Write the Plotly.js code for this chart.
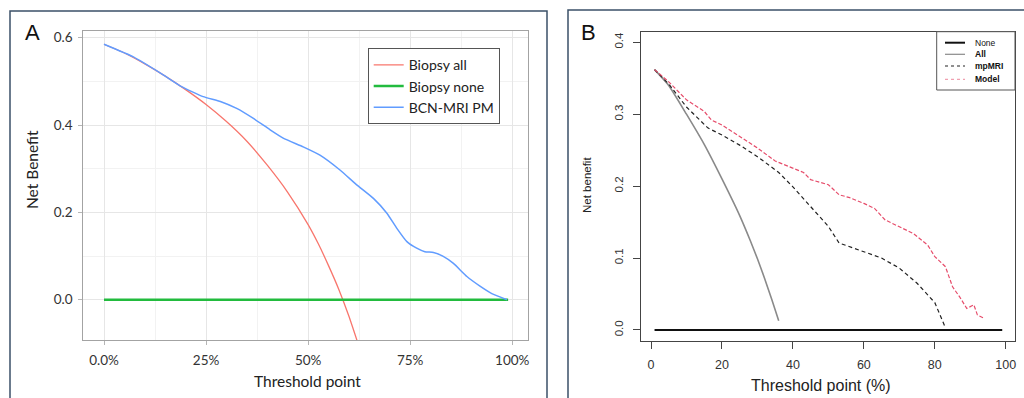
<!DOCTYPE html>
<html>
<head>
<meta charset="utf-8">
<script src="https://cdn.plot.ly/plotly-3.0.1.min.js"></script>
<style>html,body{margin:0;padding:0;background:#fff;}#chart{width:1024px;height:398px;}</style>
</head>
<body>
<div id="chart"></div>
<script>
// ---------- Panel A data (threshold as fraction, net benefit) ----------
const seriesNamesA = ['Biopsy all', 'Biopsy none', 'BCN-MRI PM'];
const thrA_all  = [0, 0.05, 0.10, 0.15, 0.20, 0.25, 0.30, 0.35, 0.40, 0.45, 0.50, 0.525, 0.55, 0.575, 0.60, 0.62];
const nbA_all   = [0.585, 0.565, 0.540, 0.512, 0.481, 0.447, 0.408, 0.363, 0.308, 0.246, 0.172, 0.128, 0.078, 0.024, -0.038, -0.094];
const thrA_none = [0, 0.99];
const nbA_none  = [0, 0];
const thrA_bcn  = [0, 0.072, 0.145, 0.19, 0.243, 0.285, 0.325, 0.366, 0.407, 0.439, 0.488, 0.529, 0.578, 0.619, 0.66, 0.693, 0.717, 0.742, 0.766, 0.786, 0.807, 0.831, 0.856, 0.889, 0.921, 0.95, 0.987];
const nbA_bcn   = [0.585, 0.556, 0.515, 0.488, 0.465, 0.454, 0.438, 0.415, 0.389, 0.370, 0.350, 0.331, 0.297, 0.263, 0.232, 0.198, 0.164, 0.133, 0.118, 0.110, 0.108, 0.099, 0.083, 0.053, 0.031, 0.014, 0.0];
const tickValsA_x = [0, 0.25, 0.5, 0.75, 1];
const tickTextA_x = ['0.0%', '25%', '50%', '75%', '100%'];
const tickValsA_y = [0, 0.2, 0.4, 0.6];

// ---------- Panel B data (threshold in %, net benefit) ----------
const seriesNamesB = ['None', 'All', 'mpMRI', 'Model'];
const thrB_none  = [1, 99];
const nbB_none   = [0, 0];
const thrB_all   = [1, 5, 10, 15, 20, 25, 28, 30, 32, 34, 36];
const nbB_all    = [0.362, 0.340, 0.300, 0.258, 0.210, 0.159, 0.124, 0.099, 0.072, 0.043, 0.013];
const thrB_mri   = [1, 5, 10, 16, 20, 25, 30, 36, 40, 45, 50, 53, 60, 65, 70, 75, 80, 83];
const nbB_mri    = [0.362, 0.342, 0.310, 0.281, 0.271, 0.257, 0.241, 0.219, 0.199, 0.171, 0.144, 0.121, 0.109, 0.100, 0.086, 0.065, 0.038, 0.003];
const thrB_model = [1, 5, 10, 15, 17, 20, 25, 30, 35, 40, 43, 45, 50, 53, 56, 60, 63, 66, 70, 74, 78, 80, 83, 85, 87, 89, 91, 92, 94];
const nbB_model  = [0.362, 0.345, 0.320, 0.304, 0.292, 0.285, 0.269, 0.253, 0.235, 0.225, 0.219, 0.209, 0.202, 0.188, 0.184, 0.176, 0.169, 0.153, 0.144, 0.134, 0.118, 0.102, 0.088, 0.060, 0.046, 0.030, 0.035, 0.021, 0.016];

const W = 1024, H = 398;
const px = v => v / W;
const py = v => 1 - v / H;

const traces = [
  {x: thrA_all, y: nbA_all, name: seriesNamesA[0], type: 'scatter', mode: 'lines', xaxis: 'x', yaxis: 'y',
   line: {color: '#F8766D', width: 1.3, shape: 'spline', smoothing: 0.5}, legend: 'legend'},
  {x: thrA_none, y: nbA_none, name: seriesNamesA[1], type: 'scatter', mode: 'lines', xaxis: 'x', yaxis: 'y',
   line: {color: '#22BB3E', width: 2.5}, legend: 'legend'},
  {x: thrA_bcn, y: nbA_bcn, name: seriesNamesA[2], type: 'scatter', mode: 'lines', xaxis: 'x', yaxis: 'y',
   line: {color: '#619CFF', width: 1.5, shape: 'spline', smoothing: 0.45}, legend: 'legend'},

  {x: thrB_none, y: nbB_none, name: seriesNamesB[0], type: 'scatter', mode: 'lines', xaxis: 'x2', yaxis: 'y2',
   line: {color: '#111111', width: 2}, showlegend: false},
  {x: thrB_all, y: nbB_all, name: seriesNamesB[1], type: 'scatter', mode: 'lines', xaxis: 'x2', yaxis: 'y2',
   line: {color: '#8a8a8a', width: 1.6, shape: 'spline', smoothing: 0.5}, showlegend: false},
  {x: thrB_mri, y: nbB_mri, name: seriesNamesB[2], type: 'scatter', mode: 'lines', xaxis: 'x2', yaxis: 'y2',
   line: {color: '#222222', width: 1.2, dash: '4px,3px'}, showlegend: false},
  {x: thrB_model, y: nbB_model, name: seriesNamesB[3], type: 'scatter', mode: 'lines', xaxis: 'x2', yaxis: 'y2',
   line: {color: '#e64d6b', width: 1.2, dash: '4px,2px'}, showlegend: false}
];

const fontA = 'Lato, "Open Sans", sans-serif';
const fontB = '"Liberation Sans", Arial, sans-serif';

// manual legend for panel B (compact R-style legend)
const legB_rows = [42.7, 54.3, 66, 79.3];
const legB_styles = [
  {color: '#111111', width: 2, dash: 'solid'},
  {color: '#8a8a8a', width: 1.2, dash: 'solid'},
  {color: '#222222', width: 1.2, dash: '3px,3px'},
  {color: '#f0a0b0', width: 1.2, dash: '3px,3px'}
];
const legB_labels = ['None', '<b>All</b>', '<b>mpMRI</b>', '<b>Model</b>'];

const shapes = [
  {type: 'rect', xref: 'paper', yref: 'paper', x0: px(10), x1: px(547), y0: -0.2, y1: py(11),
   line: {color: '#3b5068', width: 1.5}, fillcolor: 'rgba(0,0,0,0)', layer: 'below'},
  {type: 'rect', xref: 'paper', yref: 'paper', x0: px(568), x1: 1.2, y0: -0.2, y1: py(10),
   line: {color: '#3b5068', width: 1.5}, fillcolor: 'rgba(0,0,0,0)', layer: 'below'},
  {type: 'rect', xref: 'paper', yref: 'paper', x0: px(936.7), x1: px(1015), y0: py(90), y1: py(31.7),
   line: {color: '#555', width: 1}, fillcolor: '#ffffff', layer: 'above'}
];
legB_rows.forEach((r, i) => {
  shapes.push({type: 'line', xref: 'paper', yref: 'paper', x0: px(945), x1: px(965), y0: py(r), y1: py(r),
    line: legB_styles[i], layer: 'above'});
});

const annotations = [
  {text: 'A', x: px(32), y: py(33), xref: 'paper', yref: 'paper', showarrow: false, xanchor: 'center', yanchor: 'middle',
   font: {family: fontB, size: 22, color: '#111'}},
  {text: 'B', x: px(588), y: py(33), xref: 'paper', yref: 'paper', showarrow: false, xanchor: 'center', yanchor: 'middle',
   font: {family: fontB, size: 22, color: '#111'}},
  {text: 'Net Benefit', x: px(32), y: py(170), xref: 'paper', yref: 'paper', showarrow: false, textangle: -90,
   xanchor: 'center', yanchor: 'middle', font: {family: fontA, size: 15.5, color: '#222'}},
  {text: 'Threshold point', x: px(307), y: py(380.5), xref: 'paper', yref: 'paper', showarrow: false,
   xanchor: 'center', yanchor: 'middle', font: {family: fontA, size: 15.5, color: '#222'}},
  {text: 'Net benefit', x: px(587), y: py(185), xref: 'paper', yref: 'paper', showarrow: false, textangle: -90,
   xanchor: 'center', yanchor: 'middle', font: {family: fontB, size: 11.5, color: '#222'}},
  {text: 'Threshold point (%)', x: px(821), y: py(385.5), xref: 'paper', yref: 'paper', showarrow: false,
   xanchor: 'center', yanchor: 'middle', font: {family: fontB, size: 16, color: '#222'}}
];
legB_rows.forEach((r, i) => {
  annotations.push({text: legB_labels[i], x: px(973), y: py(r), xref: 'paper', yref: 'paper', showarrow: false,
    xanchor: 'left', yanchor: 'middle', font: {family: fontB, size: 8.5, color: '#111'}});
});

const layout = {
  width: W, height: H,
  margin: {l: 0, r: 0, t: 0, b: 0},
  paper_bgcolor: '#ffffff', plot_bgcolor: '#ffffff',
  xaxis: {
    domain: [px(83.3), px(528.3)], range: [-0.0507, 1.0394], anchor: 'y',
    tickmode: 'array', tickvals: tickValsA_x, ticktext: tickTextA_x,
    showline: true, mirror: true, linecolor: '#a3a3a3', linewidth: 1,
    ticks: 'outside', ticklen: 4, tickcolor: '#b5b5b5', tickwidth: 1,
    showgrid: true, gridcolor: '#e6e6e6', gridwidth: 1, zeroline: false,
    minor: {tickmode: 'array', tickvals: [0.125, 0.375, 0.625, 0.875], showgrid: true, gridcolor: '#f2f2f2', gridwidth: 1, ticks: ''},
    tickfont: {family: fontA, size: 13.5, color: '#333'}, ticklabelstandoff: 4
  },
  yaxis: {
    domain: [py(340), py(30.7)], range: [-0.0923, 0.616], anchor: 'x',
    tickmode: 'array', tickvals: tickValsA_y, tickformat: '.1f',
    showline: true, mirror: true, linecolor: '#a3a3a3', linewidth: 1,
    ticks: 'outside', ticklen: 4, tickcolor: '#b5b5b5', tickwidth: 1,
    showgrid: true, gridcolor: '#e6e6e6', gridwidth: 1, zeroline: false,
    minor: {tickmode: 'array', tickvals: [0.1, 0.3, 0.5], showgrid: true, gridcolor: '#f2f2f2', gridwidth: 1, ticks: ''},
    tickfont: {family: fontA, size: 13.5, color: '#333'}, ticklabelstandoff: 3
  },
  xaxis2: {
    domain: [px(641), px(1015)], range: [-2.82, 102.6], anchor: 'y2',
    tick0: 0, dtick: 20,
    showline: true, mirror: true, linecolor: '#444', linewidth: 1,
    ticks: 'outside', ticklen: 7, tickcolor: '#444', tickwidth: 1,
    showgrid: false, zeroline: false,
    tickfont: {family: fontB, size: 12.5, color: '#333'}, ticklabelstandoff: 5
  },
  yaxis2: {
    domain: [py(341), py(31.7)], range: [-0.0153, 0.4147], anchor: 'x2',
    tick0: 0, dtick: 0.1, tickformat: '.1f', tickangle: -90,
    showline: true, mirror: true, linecolor: '#444', linewidth: 1,
    ticks: 'outside', ticklen: 7, tickcolor: '#444', tickwidth: 1,
    showgrid: false, zeroline: false,
    tickfont: {family: fontB, size: 11.5, color: '#333'}, ticklabelstandoff: 5
  },
  legend: {
    x: px(367.7), y: py(48.3), xanchor: 'left', yanchor: 'top', xref: 'paper', yref: 'paper',
    bgcolor: '#ffffff', bordercolor: '#555', borderwidth: 1,
    font: {family: fontA, size: 14, color: '#222'}, itemwidth: 30, tracegroupgap: 0
  },
  shapes: shapes,
  annotations: annotations
};

Plotly.newPlot('chart', traces, layout, {displayModeBar: false, staticPlot: true});
</script>
</body>
</html>
